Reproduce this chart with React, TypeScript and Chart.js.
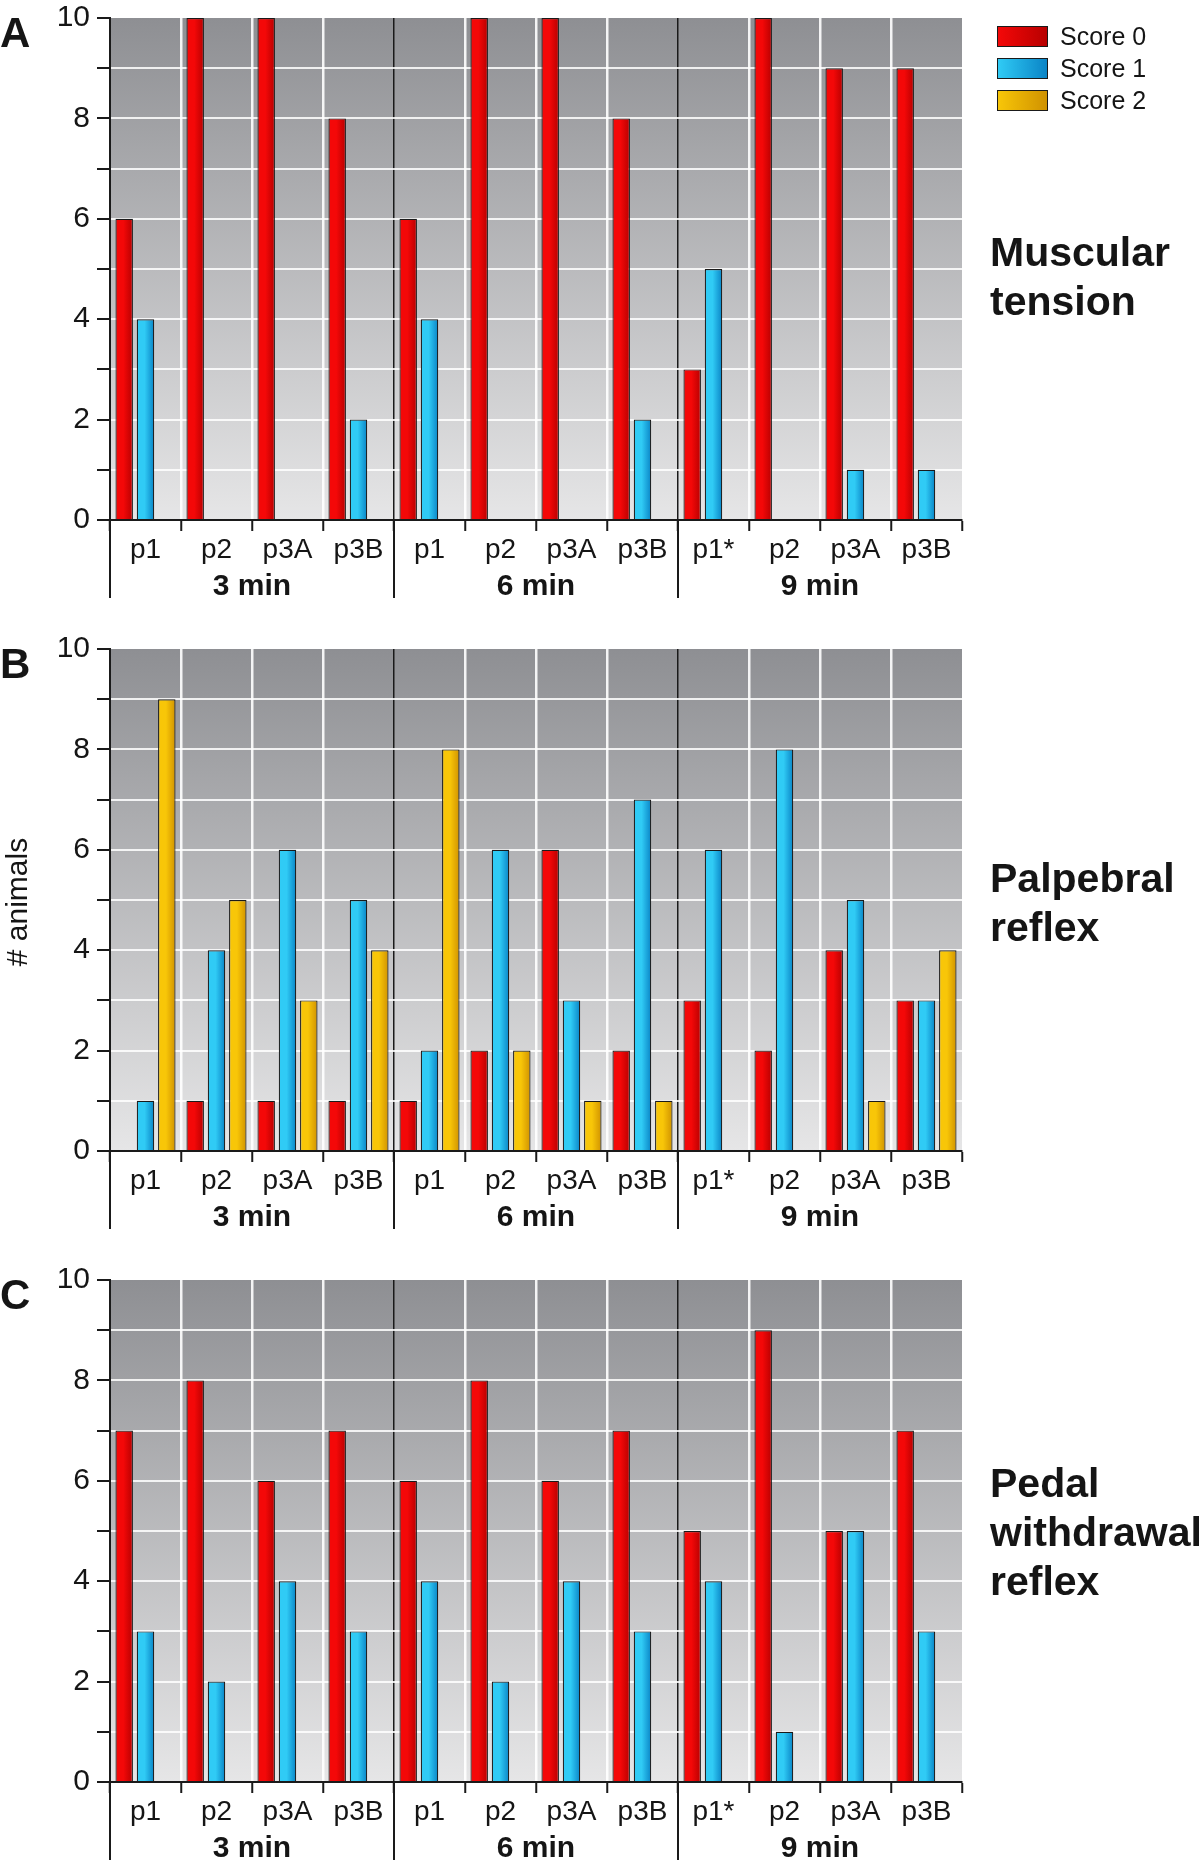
import React, { useEffect, useRef } from 'react';
import { Chart, registerables } from 'chart.js';

Chart.register(...registerables);

// ---------- data ----------
const categories = ['p1', 'p2', 'p3A', 'p3B', 'p1', 'p2', 'p3A', 'p3B', 'p1*', 'p2', 'p3A', 'p3B'];
const groupLabels = ['3 min', '6 min', '9 min'];
const seriesNames = ['Score 0', 'Score 1', 'Score 2'];
const yLabelTicks = [0, 2, 4, 6, 8, 10];

const muscularScore0 = [6, 10, 10, 8, 6, 10, 10, 8, 3, 10, 9, 9];
const muscularScore1 = [4, 0, 0, 2, 4, 0, 0, 2, 5, 0, 1, 1];
const muscularScore2 = [0, 0, 0, 0, 0, 0, 0, 0, 0, 0, 0, 0];

const palpebralScore0 = [0, 1, 1, 1, 1, 2, 6, 2, 3, 2, 4, 3];
const palpebralScore1 = [1, 4, 6, 5, 2, 6, 3, 7, 6, 8, 5, 3];
const palpebralScore2 = [9, 5, 3, 4, 8, 2, 1, 1, 0, 0, 1, 4];

const pedalScore0 = [7, 8, 6, 7, 6, 8, 6, 7, 5, 9, 5, 7];
const pedalScore1 = [3, 2, 4, 3, 4, 2, 4, 3, 4, 1, 5, 3];
const pedalScore2 = [0, 0, 0, 0, 0, 0, 0, 0, 0, 0, 0, 0];

const panels = [
  { letter: 'A', title: ['Muscular', 'tension'], series: [muscularScore0, muscularScore1, muscularScore2], titleTop: 228 },
  { letter: 'B', title: ['Palpebral', 'reflex'], series: [palpebralScore0, palpebralScore1, palpebralScore2], titleTop: 854 },
  { letter: 'C', title: ['Pedal', 'withdrawal', 'reflex'], series: [pedalScore0, pedalScore1, pedalScore2], titleTop: 1459 },
];

// ---------- style ----------
const FONT = "'Liberation Sans', Arial, Helvetica, sans-serif";
const fills: [string, string][] = [
  ['#f40808', '#b80000'],
  ['#30cbf5', '#0a84c6'],
  ['#f8c608', '#d09200'],
];
const CAT_PCT = 0.9;
const BAR_PCT = 0.82;
const PANEL_STEP = 631;
const CANVAS_H = 604;

function makeFill(i: number) {
  return (c: any) => {
    const [a, b] = fills[i];
    if (c.type !== 'data') return a;
    const xs = c.chart.scales && c.chart.scales.x;
    if (!xs || !isFinite(xs.left) || !isFinite(xs.right) || xs.right <= xs.left) return a;
    const catW = (xs.right - xs.left) / categories.length;
    const slot = (catW * CAT_PCT) / 3;
    const center = xs.getPixelForValue(c.dataIndex) + (c.datasetIndex - 1) * slot;
    const half = (slot * BAR_PCT) / 2;
    if (!isFinite(center)) return a;
    const g = c.chart.ctx.createLinearGradient(center - half, 0, center + half, 0);
    g.addColorStop(0, a);
    g.addColorStop(0.45, a);
    g.addColorStop(1, b);
    return g;
  };
}

const backgroundPlugin = {
  id: 'plotBackground',
  beforeDraw(chart: any) {
    const { ctx, chartArea } = chart;
    if (!chartArea) return;
    const g = ctx.createLinearGradient(0, chartArea.top, 0, chartArea.bottom);
    g.addColorStop(0, '#8e8f93');
    g.addColorStop(1, '#e6e6e7');
    ctx.save();
    ctx.fillStyle = g;
    ctx.fillRect(chartArea.left, chartArea.top, chartArea.right - chartArea.left, chartArea.bottom - chartArea.top);
    ctx.restore();
  },
};

const groupLinePlugin = {
  id: 'groupLines',
  afterDraw(chart: any) {
    const { ctx, chartArea } = chart;
    const xs = chart.scales.x;
    if (!xs) return;
    const catW = (xs.right - xs.left) / categories.length;
    ctx.save();
    ctx.strokeStyle = '#1a1a1a';
    ctx.lineWidth = 2;
    for (let i = 0; i < categories.length; i += 4) {
      const x = Math.round(xs.getPixelForValue(i) - catW / 2);
      ctx.beginPath();
      ctx.moveTo(x, chartArea.bottom);
      ctx.lineTo(x, chartArea.bottom + 78);
      ctx.stroke();
    }
    ctx.restore();
  },
};

function Panel({ index, series }: { index: number; series: number[][] }) {
  const ref = useRef<HTMLCanvasElement | null>(null);
  useEffect(() => {
    if (!ref.current) return;
    const chart = new Chart(ref.current, {
      type: 'bar',
      data: {
        labels: categories,
        datasets: series.map((s, i) => ({
          label: seriesNames[i],
          data: s.map((v) => (v === 0 ? null : v)),
          backgroundColor: makeFill(i),
          borderColor: '#1a1a1a',
          borderWidth: 1.2,
          borderSkipped: 'bottom',
          categoryPercentage: CAT_PCT,
          barPercentage: BAR_PCT,
          xAxisID: 'x',
          yAxisID: 'y',
        })),
      },
      options: {
        responsive: false,
        animation: false,
        devicePixelRatio: 1,
        events: [],
        layout: { padding: { left: 0, right: 238, top: 18, bottom: 0 } },
        plugins: { legend: { display: false }, tooltip: { enabled: false }, title: { display: false } },
        scales: {
          x: {
            type: 'category',
            position: 'bottom',
            offset: true,
            grid: {
              offset: true,
              color: (ctx: any) => {
                const i = ctx.index;
                if (i === undefined || i === 0 || i >= categories.length) return 'rgba(0,0,0,0)';
                return i % 4 === 0 ? '#1a1a1a' : 'rgba(255,255,255,0.9)';
              },
              lineWidth: (ctx: any) => (ctx.index !== undefined && ctx.index % 4 === 0 ? 1.5 : 2.5),
              tickColor: '#1a1a1a',
              tickLength: 11,
              tickWidth: 2,
            },
            border: { color: '#1a1a1a', width: 2 },
            ticks: {
              font: { family: FONT, size: 28 },
              color: '#151515',
              padding: 2,
              maxRotation: 0,
              autoSkip: false,
            },
            afterFit: (s: any) => {
              s.height = 46;
              s.paddingLeft = 0;
              s.paddingRight = 0;
            },
          },
          x2: {
            type: 'category',
            position: 'bottom',
            labels: groupLabels,
            offset: true,
            grid: { display: false, drawTicks: false },
            border: { display: false },
            ticks: {
              font: { family: FONT, size: 30, weight: 'bold' },
              color: '#151515',
              padding: 3,
              maxRotation: 0,
              autoSkip: false,
            },
            afterFit: (s: any) => {
              s.height = 38;
              s.paddingLeft = 0;
              s.paddingRight = 0;
            },
          },
          y: {
            type: 'linear',
            min: 0,
            max: 10,
            ticks: {
              stepSize: 1,
              autoSkip: false,
              callback: (v: any) => (yLabelTicks.includes(Number(v)) ? String(v) : ''),
              font: { family: FONT, size: 30 },
              color: '#151515',
              padding: 7,
            },
            grid: {
              color: (ctx: any) => {
                const v = ctx.tick ? ctx.tick.value : undefined;
                if (v === undefined || v === 0 || v === 10) return 'rgba(0,0,0,0)';
                return 'rgba(255,255,255,0.85)';
              },
              lineWidth: 2,
              tickColor: '#1a1a1a',
              tickLength: 13,
              tickWidth: 2,
            },
            border: { color: '#1a1a1a', width: 2 },
            afterFit: (s: any) => {
              s.width = 110;
              s.paddingTop = 0;
              s.paddingBottom = 0;
            },
          },
        },
      } as any,
      plugins: [backgroundPlugin, groupLinePlugin],
    });
    return () => chart.destroy();
  }, [series]);
  return (
    <canvas
      ref={ref}
      width={1200}
      height={CANVAS_H}
      style={{ position: 'absolute', left: 0, top: index * PANEL_STEP, width: 1200, height: CANVAS_H, display: 'block' }}
    />
  );
}

export default function App() {
  return (
    <div
      style={{
        position: 'absolute',
        left: 0,
        top: 0,
        width: 1200,
        height: 1866,
        overflow: 'hidden',
        background: '#ffffff',
        fontFamily: FONT,
        color: '#151515',
      }}
    >
      {panels.map((p, i) => (
        <Panel key={p.letter} index={i} series={p.series} />
      ))}
      {panels.map((p, i) => (
        <div
          key={'L' + p.letter}
          style={{
            position: 'absolute',
            left: 0,
            top: 12 + i * PANEL_STEP,
            fontSize: 42,
            lineHeight: '42px',
            fontWeight: 'bold',
          }}
        >
          {p.letter}
        </div>
      ))}
      {panels.map((p) => (
        <div
          key={'T' + p.letter}
          style={{
            position: 'absolute',
            left: 990,
            top: p.titleTop,
            fontSize: 41,
            lineHeight: '49px',
            fontWeight: 'bold',
            whiteSpace: 'nowrap',
          }}
        >
          {p.title.map((t) => (
            <div key={t}>{t}</div>
          ))}
        </div>
      ))}
      {seriesNames.map((name, i) => (
        <React.Fragment key={name}>
          <div
            style={{
              position: 'absolute',
              left: 997,
              top: 26 + 32 * i,
              width: 49,
              height: 19,
              border: '1px solid #1a1a1a',
              background: `linear-gradient(to right, ${fills[i][0]}, ${fills[i][1]})`,
            }}
          />
          <div
            style={{
              position: 'absolute',
              left: 1060,
              top: 24 + 32 * i,
              fontSize: 25,
              lineHeight: '25px',
              whiteSpace: 'nowrap',
            }}
          >
            {name}
          </div>
        </React.Fragment>
      ))}
      <div
        style={{
          position: 'absolute',
          left: 17 - 100,
          top: 902 - 16,
          width: 200,
          height: 32,
          lineHeight: '32px',
          fontSize: 30,
          textAlign: 'center',
          transform: 'rotate(-90deg)',
          whiteSpace: 'nowrap',
        }}
      >
        # animals
      </div>
    </div>
  );
}
